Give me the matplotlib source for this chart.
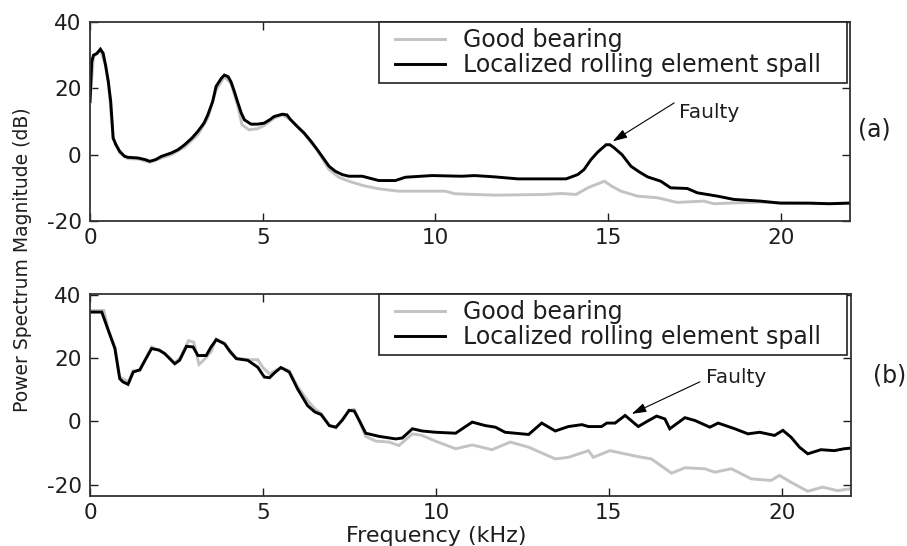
import matplotlib
matplotlib.use("Agg")
import matplotlib.pyplot as plt
from matplotlib.lines import Line2D
from matplotlib.legend_handler import HandlerLine2D

plt.rcParams['font.family'] = ['DejaVu Sans']
plt.rcParams['axes.unicode_minus'] = False

# ---------------- data (kHz, dB) ----------------
freq_a_spall = [0, 0.05, 0.1, 0.2, 0.3, 0.38, 0.45, 0.53, 0.6, 0.67, 0.75, 0.86, 1.0, 1.1, 1.39, 1.6,
                1.73, 1.9, 2.07, 2.35, 2.55, 2.74, 2.95, 3.12, 3.3, 3.41, 3.55, 3.65, 3.8, 3.89, 4.0,
                4.08, 4.18, 4.27, 4.38, 4.47, 4.66, 4.85, 5.04, 5.2, 5.33, 5.57, 5.7, 5.81, 6.0, 6.2,
                6.4, 6.58, 6.75, 6.92, 7.1, 7.3, 7.49, 7.88, 8.36, 8.84, 9.13, 9.9, 10.76, 11.14,
                11.72, 12.39, 12.87, 13.78, 14.12, 14.3, 14.5, 14.7, 14.94, 15.05, 15.18, 15.4,
                15.66, 15.9, 16.14, 16.52, 16.81, 17.29, 17.58, 18.16, 18.64, 19.4, 19.98, 20.84,
                21.4, 22.0]
db_a_spall = [16, 28, 30, 30.5, 31.8, 30.6, 27, 22, 16, 5, 3, 1, -0.5, -0.8, -1, -1.5,
              -2, -1.5, -0.5, 0.5, 1.5, 3, 5, 7, 9.5, 12, 16, 20.6, 23, 24, 23.5,
              22, 19, 16, 12.5, 10.5, 9.2, 9.2, 9.5, 10.5, 11.5, 12.2, 12, 10.5, 8.5, 6.5,
              4, 1.5, -1, -3.5, -5, -6, -6.5, -6.5, -7.8, -7.8, -6.8, -6.3, -6.5, -6.3,
              -6.7, -7.3, -7.3, -7.3, -6, -4.5, -1.5, 0.8, 3, 3, 2, 0,
              -3.5, -5.2, -6.7, -8, -10, -10.2, -11.5, -12.5, -13.5, -14, -14.6, -14.6,
              -14.8, -14.6]

freq_a_good = [0, 0.1, 0.3, 0.45, 0.53, 0.67, 0.86, 1.1, 1.39, 1.73, 2.07, 2.35, 2.74, 3.12, 3.41,
               3.65, 3.89, 4.08, 4.27, 4.4, 4.6, 4.85, 5.04, 5.33, 5.57, 5.81, 6.2, 6.58, 6.92, 7.2,
               7.49, 7.9, 8.36, 8.93, 10.28, 10.57, 11.72, 13.16, 13.64, 14.07, 14.41, 14.65, 14.89,
               15.1, 15.37, 15.85, 16.43, 17.0, 17.77, 18.06, 18.5, 19.4, 20.0, 21.0, 22.0]
db_a_good = [16, 29.5, 31.6, 27, 22, 5, 0.5, -1.2, -1.3, -2.3, -1, 0, 2.3, 6, 11,
             19.5, 23.5, 21.5, 15, 9, 7.5, 7.8, 8.8, 11, 12, 10.5, 6.3, 1.3, -4.5, -6.8,
             -8, -9.3, -10.3, -11, -11, -11.8, -12.2, -12, -11.7, -12, -10, -9, -8,
             -9.5, -11, -12.5, -13, -14.4, -14, -14.8, -14.6, -14.3, -14.6, -14.8, -14.6]

freq_b_spall = [0, 0.34, 0.53, 0.72, 0.86, 0.95, 1.1, 1.25, 1.44, 1.6, 1.78, 2.0, 2.16, 2.45, 2.59,
                2.79, 2.98, 3.12, 3.36, 3.5, 3.65, 3.89, 4.05, 4.23, 4.56, 4.85, 5.04, 5.19, 5.35,
                5.52, 5.76, 6.0, 6.29, 6.5, 6.68, 6.92, 7.11, 7.3, 7.49, 7.64, 7.8, 7.97, 8.36, 8.84,
                9.03, 9.32, 9.6, 9.99, 10.57, 11.05, 11.43, 11.72, 12.0, 12.68, 13.06, 13.45, 13.83,
                14.22, 14.41, 14.79, 14.94, 15.18, 15.47, 15.85, 16.1, 16.38, 16.62, 16.76, 17.2,
                17.49, 17.92, 18.16, 18.64, 19.02, 19.36, 19.79, 20.03, 20.27, 20.51, 20.75, 21.13,
                21.52, 21.8, 22.0]
db_b_spall = [34.5, 34.5, 28.7, 23, 13.5, 12.5, 11.7, 15.6, 16.3, 19.5, 23, 22.5, 21.4, 18.2, 19.3,
              23.7, 23.5, 20.8, 20.8, 23.5, 25.8, 24.5, 22, 19.8, 19.3, 17.1, 14, 13.8, 15.5,
              17, 15.6, 10.3, 5, 3, 2.2, -1.3, -1.8, 0.5, 3.5, 3.3, 0, -3.7, -4.7, -5.5,
              -5.2, -2.3, -3, -3.4, -3.7, -0.2, -1.3, -1.8, -3.4, -4.1, -0.5, -3, -1.6,
              -1, -1.6, -1.6, -0.5, -0.5, 1.9, -1.6, 0, 1.7, 0.8, -2.3, 1.2,
              0.3, -1.8, -0.5, -2.3, -3.9, -3.4, -4.4, -2.8, -5.0, -8.1, -10.2, -8.9,
              -9.2, -8.6, -8.4]

freq_b_good = [0, 0.4, 0.53, 0.72, 0.86, 1.1, 1.25, 1.44, 1.78, 2.16, 2.45, 2.6, 2.85, 3.0, 3.15,
               3.3, 3.5, 3.65, 3.89, 4.23, 4.56, 4.85, 5.0, 5.19, 5.52, 5.76, 6.0, 6.3, 6.5, 6.68,
               6.92, 7.11, 7.49, 7.64, 7.97, 8.26, 8.65, 8.93, 9.32, 9.6, 9.99, 10.57, 11.05, 11.62,
               12.15, 12.68, 13.45, 13.83, 14.41, 14.55, 15.03, 15.85, 16.23, 16.81, 17.2, 17.77,
               18.06, 18.54, 19.12, 19.69, 19.93, 20.27, 20.75, 21.18, 21.61, 22.0]
db_b_good = [35, 35, 29, 23.5, 14, 12.5, 16, 16, 23.5, 21.5, 18.5, 20, 25.5, 25, 18,
             19.5, 22, 26, 24.5, 20, 19.5, 19.5, 17, 15, 17, 16, 11, 6.5, 4, 2.5,
             -1.3, -2, 3.5, 3.8, -4.7, -6.2, -6.5, -7.6, -3.9, -4.4, -6.2, -8.6, -7.4, -8.9,
             -6.5, -8.1, -11.8, -11.3, -9.2, -11.3, -9.2, -11.1, -11.8, -16.3, -14.6, -14.9,
             -16, -14.9, -18.1, -18.6, -17, -19.2, -22, -20.7, -21.8, -21.2]

series_labels = ["Good bearing", "Localized rolling element spall"]
x_ticks = [0, 5, 10, 15, 20]
y_ticks = [-20, 0, 20, 40]

# annotation anchor points (data coords)
arrow_a_tip, arrow_a_tail = (15.13, 4.0), (16.91, 15.6)
arrow_b_tip, arrow_b_tail = (15.66, 2.4), (17.63, 12.5)

# ---------------- style ----------------
GREY = '#c3c3c3'
INK = '#1e1e1e'
FS_TICK = 15.5
FS_LEG = 17

W, H = 907, 546
fig = plt.figure(figsize=(W / 100, H / 100), dpi=100)
fig.patch.set_facecolor('white')

ax1 = fig.add_axes([90 / W, 1 - 221 / H, 760 / W, 199 / H])
ax2 = fig.add_axes([90 / W, 1 - 496 / H, 761 / W, 202 / H])


def style(ax, ylim):
    ax.set_xlim(0, 22)
    ax.set_ylim(*ylim)
    ax.set_xticks(x_ticks)
    ax.set_yticks(y_ticks)
    ax.tick_params(direction='in', top=True, right=True, length=6, width=1.0,
                   labelsize=FS_TICK, colors=INK, pad=6)
    ax.tick_params(axis='x', pad=5)
    for s in ax.spines.values():
        s.set_linewidth(1.3)
        s.set_color('#333333')


for ax, (fg, dg, fs_, ds), ylim in [
        (ax1, (freq_a_good, db_a_good, freq_a_spall, db_a_spall), (-20, 40)),
        (ax2, (freq_b_good, db_b_good, freq_b_spall, db_b_spall), (-23.5, 40.2))]:
    ax.plot(fg, dg, color=GREY, lw=2.1, solid_joinstyle='miter')
    ax.plot(fs_, ds, color='black', lw=2.1, solid_joinstyle='miter')
    style(ax, ylim)
    handles = [Line2D([], [], color=GREY, lw=2.1), Line2D([], [], color='black', lw=2.1)]
    axw = ax.get_position().width * W
    leg = ax.legend(handles, series_labels, loc='upper left', mode='expand',
                    bbox_to_anchor=((379 - 90) / axw, 0.0, (847 - 379) / axw, 1.0),
                    borderaxespad=0, fancybox=False, framealpha=1, edgecolor='#222222',
                    fontsize=FS_LEG, handlelength=2.54, handletextpad=0.76,
                    borderpad=0.25, labelspacing=0.06,
                    handler_map={Line2D: HandlerLine2D(xpad=0.43)})
    leg.get_frame().set_linewidth(1.2)
    for t in leg.get_texts():
        t.set_color(INK)

arrow_style = dict(arrowstyle='-|>,head_length=0.8,head_width=0.25', color='black',
                   lw=0.8, mutation_scale=11, shrinkA=0, shrinkB=0)
ax1.annotate('', xy=arrow_a_tip, xytext=arrow_a_tail, arrowprops=arrow_style)
ax1.text(17.06, 12.6, 'Faulty', fontsize=14.5, color=INK, ha='left', va='center')
ax2.annotate('', xy=arrow_b_tip, xytext=arrow_b_tail, arrowprops=arrow_style)
ax2.text(17.81, 14.0, 'Faulty', fontsize=14.5, color=INK, ha='left', va='center')

fig.text(858 / W, 1 - 130 / H, '(a)', fontsize=FS_LEG, color=INK, ha='left', va='center')
fig.text(873 / W, 1 - 375 / H, '(b)', fontsize=FS_LEG, color=INK, ha='left', va='center')

fig.text(23 / W, 1 - 259.5 / H, 'Power Spectrum Magnitude (dB)', rotation=90,
         fontsize=13.5, color=INK, ha='center', va='center')
fig.text(436 / W, 1 - 536 / H, 'Frequency (kHz)', fontsize=16, color=INK,
         ha='center', va='center')

fig.savefig('out.png', dpi=100, facecolor='white')
